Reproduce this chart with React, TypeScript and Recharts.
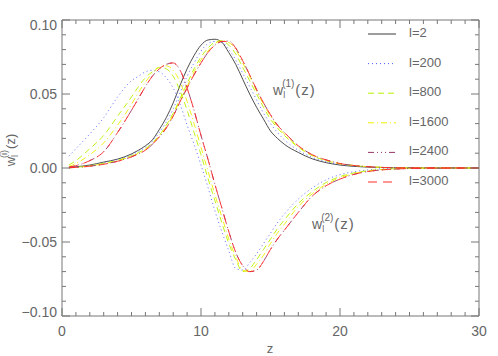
import React from 'react';
import { LineChart, Line, XAxis, YAxis } from 'recharts';

// sample points in z (denser where the curves turn)
const zValues = [0.5, 1, 2, 3, 4, 5, 5.5, 6, 6.5, 7, 7.5, 8, 8.5, 9, 9.5, 10, 10.5, 11, 11.5, 12, 12.5, 13, 13.5, 14, 14.5, 15, 15.5, 16, 17, 18, 19, 20, 21, 22, 24, 26, 30];

// w_l^(1)(z)
const w1L2 = [0.0003, 0.0008, 0.002, 0.004, 0.006, 0.0095, 0.012, 0.015, 0.019, 0.026, 0.034, 0.044, 0.056, 0.067, 0.076, 0.083, 0.0865, 0.087, 0.085, 0.078, 0.070, 0.060, 0.050, 0.041, 0.033, 0.025, 0.020, 0.016, 0.0105, 0.0062, 0.0036, 0.002, 0.0011, 0.0006, 0.0002, 0.0001, 0];
const w1L200 = [0.0002, 0.0006, 0.0018, 0.0036, 0.0057, 0.009, 0.0112, 0.014, 0.018, 0.024, 0.031, 0.040, 0.051, 0.062, 0.071, 0.079, 0.084, 0.0855, 0.085, 0.080, 0.073, 0.064, 0.055, 0.046, 0.037, 0.030, 0.024, 0.019, 0.012, 0.0072, 0.0042, 0.0024, 0.0013, 0.0007, 0.0002, 0.0001, 0];
const w1L800 = [0.0002, 0.0005, 0.0016, 0.0032, 0.0052, 0.0084, 0.0104, 0.013, 0.017, 0.022, 0.029, 0.037, 0.047, 0.057, 0.067, 0.075, 0.081, 0.085, 0.086, 0.083, 0.077, 0.068, 0.059, 0.050, 0.041, 0.033, 0.027, 0.022, 0.014, 0.0083, 0.0049, 0.0028, 0.0016, 0.0009, 0.0002, 0.0001, 0];
const w1L1600 = [0.0002, 0.0004, 0.0014, 0.0029, 0.0049, 0.008, 0.0099, 0.0125, 0.0165, 0.0215, 0.028, 0.036, 0.046, 0.055, 0.065, 0.073, 0.079, 0.084, 0.086, 0.0848, 0.080, 0.071, 0.062, 0.052, 0.043, 0.035, 0.028, 0.023, 0.0145, 0.0087, 0.0052, 0.003, 0.0017, 0.0009, 0.0002, 0.0001, 0];
const w1L2400 = [0.0002, 0.0004, 0.0012, 0.0026, 0.0046, 0.0076, 0.0096, 0.012, 0.016, 0.021, 0.027, 0.035, 0.045, 0.054, 0.063, 0.071, 0.078, 0.083, 0.0855, 0.0858, 0.081, 0.0725, 0.063, 0.053, 0.044, 0.036, 0.029, 0.024, 0.015, 0.009, 0.0055, 0.0031, 0.0017, 0.0009, 0.0002, 0.0001, 0];
const w1L3000 = [0.0002, 0.0004, 0.0012, 0.0025, 0.0045, 0.0075, 0.0095, 0.012, 0.016, 0.021, 0.027, 0.035, 0.045, 0.054, 0.063, 0.071, 0.078, 0.083, 0.0855, 0.0855, 0.081, 0.0725, 0.063, 0.053, 0.044, 0.036, 0.029, 0.024, 0.015, 0.009, 0.0055, 0.003, 0.0017, 0.0009, 0.0002, 0.0001, 0];

// w_l^(2)(z)
const w2L200 = [0.008, 0.013, 0.023, 0.034, 0.048, 0.059, 0.062, 0.065, 0.066, 0.065, 0.061, 0.054, 0.043, 0.029, 0.016, 0.002, -0.013, -0.029, -0.043, -0.056, -0.068, -0.069, -0.064, -0.058, -0.051, -0.044, -0.037, -0.031, -0.021, -0.0135, -0.008, -0.0045, -0.0025, -0.0013, -0.0003, -0.0001, 0];
const w2L800 = [0.002, 0.005, 0.013, 0.022, 0.035, 0.048, 0.055, 0.061, 0.065, 0.068, 0.067, 0.062, 0.052, 0.039, 0.024, 0.009, -0.007, -0.022, -0.037, -0.051, -0.062, -0.070, -0.068, -0.062, -0.055, -0.048, -0.041, -0.035, -0.024, -0.016, -0.0098, -0.0058, -0.0033, -0.0018, -0.0005, -0.0001, 0];
const w2L1600 = [0.001, 0.003, 0.009, 0.017, 0.029, 0.043, 0.051, 0.058, 0.064, 0.068, 0.069, 0.066, 0.058, 0.045, 0.030, 0.014, -0.002, -0.018, -0.033, -0.048, -0.060, -0.069, -0.070, -0.065, -0.059, -0.051, -0.044, -0.038, -0.026, -0.0175, -0.011, -0.0066, -0.0038, -0.0021, -0.0006, -0.0001, 0];
const w2L2400 = [0.0006, 0.0016, 0.005, 0.011, 0.024, 0.039, 0.047, 0.055, 0.062, 0.067, 0.070, 0.071, 0.066, 0.054, 0.039, 0.022, 0.006, -0.011, -0.027, -0.043, -0.057, -0.066, -0.070, -0.069, -0.063, -0.055, -0.048, -0.042, -0.030, -0.019, -0.012, -0.0075, -0.0043, -0.0024, -0.0007, -0.0002, 0];
const w2L3000 = [0.0005, 0.0015, 0.005, 0.011, 0.024, 0.039, 0.047, 0.055, 0.062, 0.067, 0.070, 0.071, 0.066, 0.054, 0.039, 0.022, 0.006, -0.011, -0.027, -0.043, -0.057, -0.066, -0.070, -0.069, -0.063, -0.055, -0.048, -0.042, -0.030, -0.019, -0.012, -0.0075, -0.0043, -0.0024, -0.0007, -0.0002, 0];

const xTicks = [0, 1, 2, 3, 4, 5, 6, 7, 8, 9, 10, 11, 12, 13, 14, 15, 16, 17, 18, 19, 20, 21, 22, 23, 24, 25, 26, 27, 28, 29, 30];
const xLabels = [0, 10, 20, 30];
const yTicks = [-0.1, -0.09, -0.08, -0.07, -0.06, -0.05, -0.04, -0.03, -0.02, -0.01, 0, 0.01, 0.02, 0.03, 0.04, 0.05, 0.06, 0.07, 0.08, 0.09, 0.1];
const yLabels = [-0.1, -0.05, 0, 0.05, 0.1];
const legendLabels = ['l=2', 'l=200', 'l=800', 'l=1600', 'l=2400', 'l=3000'];

const data = zValues.map((z, i) => ({
  z,
  w1_2: w1L2[i],
  w1_200: w1L200[i],
  w1_800: w1L800[i],
  w1_1600: w1L1600[i],
  w1_2400: w1L2400[i],
  w1_3000: w1L3000[i],
  w2_200: w2L200[i],
  w2_800: w2L800[i],
  w2_1600: w2L1600[i],
  w2_2400: w2L2400[i],
  w2_3000: w2L3000[i],
}));

const lineStyles = [
  { color: '#3a3a3a', dash: undefined },
  { color: '#4a5cff', dash: '1 3' },
  { color: '#b8f000', dash: '6 4' },
  { color: '#eeee00', dash: '6 3 1 3' },
  { color: '#993366', dash: '6 3 1 3 1 3 1 3' },
  { color: '#ff2b2b', dash: '9 6' },
];

const series = [
  { key: 'w1_2', style: 0 },
  { key: 'w1_200', style: 1 },
  { key: 'w2_200', style: 1 },
  { key: 'w1_800', style: 2 },
  { key: 'w2_800', style: 2 },
  { key: 'w1_1600', style: 3 },
  { key: 'w2_1600', style: 3 },
  { key: 'w1_2400', style: 4 },
  { key: 'w2_2400', style: 4 },
  { key: 'w1_3000', style: 5 },
  { key: 'w2_3000', style: 5 },
];

const axisColor = '#777';
const textColor = '#666';
const font = '"Liberation Sans", Arial, sans-serif';

const fmtY = (v: number) => {
  const s = Math.abs(v).toFixed(2);
  return v < -1e-9 ? '\u2212' + s : s;
};

const BottomTick = (props: any) => {
  const { x, y, payload } = props;
  const major = xLabels.includes(payload.value);
  return (
    <g>
      <line x1={x} x2={x} y1={y} y2={y - (major ? 8 : 4)} stroke={axisColor} />
      {major && (
        <text x={x} y={y + 20} textAnchor="middle" fontSize={14} fontFamily={font} fill={textColor}>
          {payload.value}
        </text>
      )}
    </g>
  );
};

const TopTick = (props: any) => {
  const { x, y, payload } = props;
  const major = xLabels.includes(payload.value);
  return <line x1={x} x2={x} y1={y} y2={y + (major ? 8 : 4)} stroke={axisColor} />;
};

const isMajorY = (v: number) => yLabels.some((l) => Math.abs(l - v) < 1e-6);

const LeftTick = (props: any) => {
  const { x, y, payload } = props;
  const v = payload.value as number;
  const major = isMajorY(v);
  let dy = 5;
  if (v > 0.099) dy = 10;
  if (v < -0.099) dy = 1;
  return (
    <g>
      <line x1={x} x2={x + (major ? 8 : 4)} y1={y} y2={y} stroke={axisColor} />
      {major && (
        <text x={x - 5} y={y + dy} textAnchor="end" fontSize={14} fontFamily={font} fill={textColor}>
          {fmtY(v)}
        </text>
      )}
    </g>
  );
};

const RightTick = (props: any) => {
  const { x, y, payload } = props;
  const major = isMajorY(payload.value);
  return <line x1={x} x2={x - (major ? 8 : 4)} y1={y} y2={y} stroke={axisColor} />;
};

const WLabel = ({ x, y, sup }: { x: number; y: number; sup: string }) => (
  <text x={x} y={y} fontSize={14} fontFamily={font} fill={textColor}>
    w
    <tspan dy={3} fontSize={9}>l</tspan>
    <tspan dx={-3} dy={-11} fontSize={10}>{sup}</tspan>
    <tspan dx={1} dy={8} fontSize={15} letterSpacing={1}>(z)</tspan>
  </text>
);

export default function App() {
  return (
    <div style={{ position: 'absolute', left: 0, top: 0, width: 498, height: 356, background: '#fff' }}>
      <LineChart width={498} height={356} data={data} margin={{ top: 0, right: 0, bottom: 0, left: 0 }}>
        <XAxis
          xAxisId="bottom"
          dataKey="z"
          type="number"
          domain={[0, 30]}
          allowDataOverflow
          ticks={xTicks}
          interval={0}
          height={40}
          tickSize={0}
          tickMargin={0}
          tickLine={false}
          tick={<BottomTick />}
          axisLine={{ stroke: axisColor }}
        />
        <XAxis
          xAxisId="top"
          orientation="top"
          dataKey="z"
          type="number"
          domain={[0, 30]}
          allowDataOverflow
          ticks={xTicks}
          interval={0}
          height={20}
          tickSize={0}
          tickMargin={0}
          tickLine={false}
          tick={<TopTick />}
          axisLine={{ stroke: axisColor }}
        />
        <YAxis
          yAxisId="left"
          type="number"
          domain={[-0.1, 0.1]}
          allowDataOverflow
          ticks={yTicks}
          interval={0}
          width={62}
          tickSize={0}
          tickMargin={0}
          tickLine={false}
          tick={<LeftTick />}
          axisLine={{ stroke: axisColor }}
        />
        <YAxis
          yAxisId="right"
          orientation="right"
          type="number"
          domain={[-0.1, 0.1]}
          allowDataOverflow
          ticks={yTicks}
          interval={0}
          width={19}
          tickSize={0}
          tickMargin={0}
          tickLine={false}
          tick={<RightTick />}
          axisLine={{ stroke: axisColor }}
        />
        {series.map((s) => (
          <Line
            key={s.key}
            xAxisId="bottom"
            yAxisId="left"
            type="monotone"
            dataKey={s.key}
            stroke={lineStyles[s.style].color}
            strokeDasharray={lineStyles[s.style].dash}
            strokeWidth={0.9}
            dot={false}
            activeDot={false}
            isAnimationActive={false}
          />
        ))}
      </LineChart>
      <svg
        width={498}
        height={356}
        style={{ position: 'absolute', left: 0, top: 0, pointerEvents: 'none' }}
      >
        {legendLabels.map((label, i) => {
          const ly = 34 + i * 29.6;
          const st = lineStyles[i];
          return (
            <g key={label}>
              <line x1={368} x2={396} y1={ly} y2={ly} stroke={st.color} strokeDasharray={st.dash} />
              <text x={409} y={ly + 3} fontSize={13} fontFamily={font} fill={textColor}>
                {label}
              </text>
            </g>
          );
        })}
        <WLabel x={273} y={95} sup="(1)" />
        <WLabel x={312} y={229} sup="(2)" />
        <text x={270} y={353} textAnchor="middle" fontSize={13} fontFamily={font} fill={textColor}>
          z
        </text>
        <g transform="translate(15,150) rotate(-90)">
          <text x={0} y={0} textAnchor="middle" fontSize={13} fontFamily={font} fill={textColor}>
            w
            <tspan dy={3} fontSize={9}>l</tspan>
            <tspan dx={-3} dy={-11} fontSize={9}>(i)</tspan>
            <tspan dx={1} dy={8}>(z)</tspan>
          </text>
        </g>
      </svg>
    </div>
  );
}
